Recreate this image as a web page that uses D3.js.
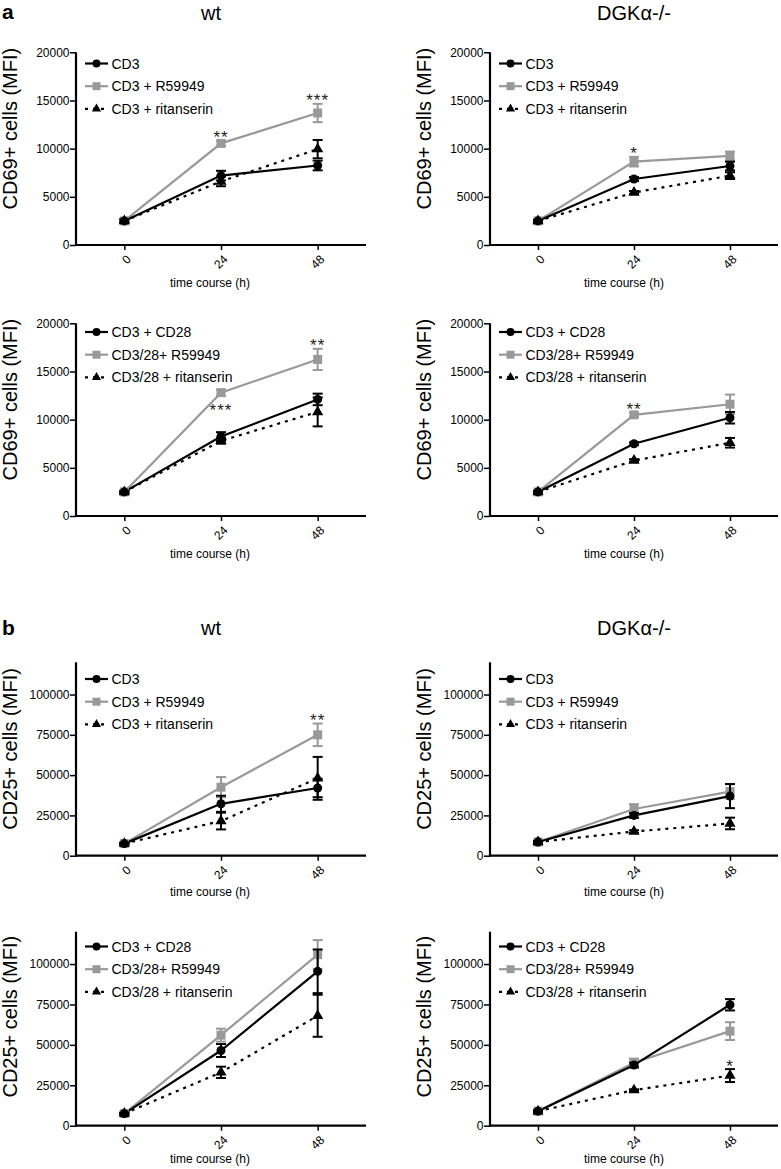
<!DOCTYPE html>
<html><head><meta charset="utf-8">
<script src="https://cdn.jsdelivr.net/npm/d3@7"></script>
<style>
body{margin:0;background:#fff;}
text{font-family:"Liberation Sans",Arial,Helvetica,sans-serif;}
</style></head>
<body>
<svg id="chart" width="781" height="1169"></svg>
<script>
// ---------------- DATA ----------------
const times = [0, 24, 48];
const timeLabels = ["0", "24", "48"];
const cd69Ticks = [0, 5000, 10000, 15000, 20000];
const cd25Ticks = [0, 25000, 50000, 75000, 100000];

const legendCD3 = ["CD3", "CD3 + R59949", "CD3 + ritanserin"];
const legendCD28 = ["CD3 + CD28", "CD3/28+ R59949", "CD3/28 + ritanserin"];

// CD69 wt, CD3
const a1_ctrl = [2500, 7200, 8250],  a1_ctrlErr = [150, 500, 500];
const a1_r    = [2500, 10550, 13700], a1_rErr = [150, 250, 950];
const a1_rit  = [2500, 6600, 9950],  a1_ritErr = [150, 500, 950];
// CD69 DGKa-/-, CD3
const a2_ctrl = [2500, 6850, 8200],  a2_ctrlErr = [100, 200, 450];
const a2_r    = [2500, 8650, 9250],  a2_rErr = [100, 500, 450];
const a2_rit  = [2500, 5450, 7200],  a2_ritErr = [100, 150, 350];
// CD69 wt, CD3/28
const a3_ctrl = [2500, 8250, 12100], a3_ctrlErr = [100, 450, 600];
const a3_r    = [2500, 12800, 16250], a3_rErr = [100, 300, 1100];
const a3_rit  = [2500, 7800, 10800], a3_ritErr = [100, 300, 1500];
// CD69 DGKa-/-, CD3/28
const a4_ctrl = [2500, 7500, 10200], a4_ctrlErr = [100, 150, 600];
const a4_r    = [2500, 10500, 11600], a4_rErr = [100, 200, 1000];
const a4_rit  = [2500, 5750, 7600],  a4_ritErr = [100, 150, 500];
// CD25 wt, CD3
const b1_ctrl = [7500, 32200, 42000], b1_ctrlErr = [500, 5000, 5700];
const b1_r    = [7500, 42500, 75000], b1_rErr = [500, 6300, 7000];
const b1_rit  = [7500, 21500, 48000], b1_ritErr = [500, 5200, 13300];
// CD25 DGKa-/-, CD3
const b2_ctrl = [8500, 25000, 37000], b2_ctrlErr = [500, 1500, 7500];
const b2_r    = [8500, 29000, 39800], b2_rErr = [500, 3000, 4500];
const b2_rit  = [8500, 15000, 20000], b2_ritErr = [500, 800, 3600];
// CD25 wt, CD3/28
const b3_ctrl = [7500, 46500, 95500], b3_ctrlErr = [500, 4000, 13500];
const b3_r    = [7500, 56000, 105800], b3_rErr = [500, 4000, 9000];
const b3_rit  = [7500, 33000, 68000], b3_ritErr = [500, 3500, 13000];
// CD25 DGKa-/-, CD3/28
const b4_ctrl = [9000, 37500, 74800], b4_ctrlErr = [500, 1500, 3500];
const b4_r    = [9000, 39000, 58500], b4_rErr = [500, 2500, 5500];
const b4_rit  = [9000, 22000, 31000], b4_ritErr = [500, 500, 4000];

// significance marks: [time index, series, text, side]
const a1_stars = [[1, "r", "**", "above"], [2, "r", "***", "above"]];
const a2_stars = [[1, "r", "*", "above"]];
const a3_stars = [[1, "r", "***", "below"], [2, "r", "**", "above"]];
const a4_stars = [[1, "r", "**", "above"]];
const b1_stars = [[2, "r", "**", "above"]];
const b2_stars = [];
const b3_stars = [];
const b4_stars = [[2, "rit", "*", "above"]];

// ---------------- LAYOUT ----------------
const GREY = "#999999";
const cols = [{ax: 76, end: 366, title: "wt", tx: 211}, {ax: 490, end: 778, title: "DGK\u03B1-/-", tx: 634}];
const rows = [
  {top: 52.3, bottom: 245, max: 20000, ticks: cd69Ticks, ylab: "CD69+ cells (MFI)", labOff: -20, legTop: 63.5, xlabOff: 42},
  {top: 323.3, bottom: 516, max: 20000, ticks: cd69Ticks, ylab: "CD69+ cells (MFI)", labOff: -20, legTop: 332, xlabOff: 42},
  {top: 662.3, bottom: 855.7, max: 120000, ticks: cd25Ticks, ylab: "CD25+ cells (MFI)", labOff: -10, legTop: 679, xlabOff: 40},
  {top: 931.7, bottom: 1125.7, max: 120000, ticks: cd25Ticks, ylab: "CD25+ cells (MFI)", labOff: -12, legTop: 946.5, xlabOff: 37}
];

const panels = [
  {r: 0, c: 0, leg: legendCD3, ctrl: a1_ctrl, ctrlErr: a1_ctrlErr, rv: a1_r, rErr: a1_rErr, rit: a1_rit, ritErr: a1_ritErr, stars: a1_stars},
  {r: 0, c: 1, leg: legendCD3, ctrl: a2_ctrl, ctrlErr: a2_ctrlErr, rv: a2_r, rErr: a2_rErr, rit: a2_rit, ritErr: a2_ritErr, stars: a2_stars},
  {r: 1, c: 0, leg: legendCD28, ctrl: a3_ctrl, ctrlErr: a3_ctrlErr, rv: a3_r, rErr: a3_rErr, rit: a3_rit, ritErr: a3_ritErr, stars: a3_stars},
  {r: 1, c: 1, leg: legendCD28, ctrl: a4_ctrl, ctrlErr: a4_ctrlErr, rv: a4_r, rErr: a4_rErr, rit: a4_rit, ritErr: a4_ritErr, stars: a4_stars},
  {r: 2, c: 0, leg: legendCD3, ctrl: b1_ctrl, ctrlErr: b1_ctrlErr, rv: b1_r, rErr: b1_rErr, rit: b1_rit, ritErr: b1_ritErr, stars: b1_stars},
  {r: 2, c: 1, leg: legendCD3, ctrl: b2_ctrl, ctrlErr: b2_ctrlErr, rv: b2_r, rErr: b2_rErr, rit: b2_rit, ritErr: b2_ritErr, stars: b2_stars},
  {r: 3, c: 0, leg: legendCD28, ctrl: b3_ctrl, ctrlErr: b3_ctrlErr, rv: b3_r, rErr: b3_rErr, rit: b3_rit, ritErr: b3_ritErr, stars: b3_stars},
  {r: 3, c: 1, leg: legendCD28, ctrl: b4_ctrl, ctrlErr: b4_ctrlErr, rv: b4_r, rErr: b4_rErr, rit: b4_rit, ritErr: b4_ritErr, stars: b4_stars}
];

const svg = d3.select("#chart");

// section letters and titles
svg.append("text").attr("x", 2).attr("y", 19).attr("font-size", 21).attr("font-weight", "bold").text("a");
svg.append("text").attr("x", 2).attr("y", 635).attr("font-size", 21).attr("font-weight", "bold").text("b");
[20, 635].forEach(ty => {
  cols.forEach(c => {
    svg.append("text").attr("x", c.tx).attr("y", ty).attr("text-anchor", "middle")
      .attr("font-size", 20).text(c.title);
  });
});

function marker(g, shape, x, y, color, size) {
  if (shape === "circle") {
    g.append("circle").attr("cx", x).attr("cy", y).attr("r", size / 2).attr("fill", color);
  } else {
    const sym = shape === "square" ? d3.symbolSquare : d3.symbolTriangle;
    const area = shape === "square" ? size * size : size * size * 0.45;
    g.append("path").attr("d", d3.symbol(sym, area)()).attr("transform", `translate(${x},${y})`).attr("fill", color);
  }
}

panels.forEach(p => {
  const row = rows[p.r], col = cols[p.c];
  const x = d3.scaleLinear().domain([-12, 60]).range([col.ax, col.end]);
  const y = d3.scaleLinear().domain([0, row.max]).range([row.bottom, row.top]);
  const g = svg.append("g");

  // y axis
  const yAx = g.append("g").attr("transform", `translate(${col.ax},0)`)
    .call(d3.axisLeft(y).tickValues(row.ticks).tickFormat(d3.format("d")).tickSize(6).tickSizeOuter(0));
  yAx.select(".domain").attr("stroke-width", 2.2).attr("d", `M0,${y(row.max)}V${row.bottom + 1}`);
  yAx.selectAll(".tick line").attr("stroke-width", 1.5);
  yAx.selectAll(".tick text").attr("font-size", 12).attr("x", -6.5).attr("font-family", "Liberation Sans, Arial, sans-serif");

  // x axis
  const xAx = g.append("g").attr("transform", `translate(0,${row.bottom})`)
    .call(d3.axisBottom(x).tickValues(times).tickFormat((d, i) => timeLabels[i]).tickSize(5).tickSizeOuter(0));
  xAx.select(".domain").attr("stroke-width", 2.2).attr("d", `M${col.ax - 1},0H${col.end}`);
  xAx.selectAll(".tick line").attr("stroke-width", 1.5);
  xAx.selectAll(".tick text").attr("font-size", 12).attr("font-family", "Liberation Sans, Arial, sans-serif")
    .attr("text-anchor", "end").attr("y", 0).attr("dy", "0.35em")
    .attr("transform", "translate(4,12) rotate(-45)");

  // axis titles
  g.append("text").attr("transform", `translate(${col.ax - 66},${(row.top + row.bottom) / 2 + row.labOff}) rotate(-90)`)
    .attr("text-anchor", "middle").attr("dy", "0.35em").attr("font-size", 20).text(row.ylab);
  g.append("text").attr("x", col.ax + 134).attr("y", row.bottom + row.xlabOff).attr("text-anchor", "middle")
    .attr("font-size", 12).text("time course (h)");

  const series = [
    {key: "r", vals: p.rv, err: p.rErr, color: GREY, dash: null, shape: "square", size: 9},
    {key: "ctrl", vals: p.ctrl, err: p.ctrlErr, color: "#000", dash: null, shape: "circle", size: 9},
    {key: "rit", vals: p.rit, err: p.ritErr, color: "#000", dash: "3,5", shape: "triangle", size: 11}
  ];
  const line = d3.line().x((d, i) => x(times[i])).y(d => y(d));

  series.forEach(s => {
    g.append("path").datum(s.vals).attr("d", line).attr("fill", "none").attr("stroke", s.color)
      .attr("stroke-width", 2.2).attr("stroke-dasharray", s.dash);
  });
  series.forEach(s => {
    s.vals.forEach((v, i) => {
      const cx = x(times[i]);
      const e = s.err[i];
      const eb = g.append("g").attr("stroke", s.color).attr("stroke-width", 2);
      eb.append("line").attr("x1", cx).attr("x2", cx).attr("y1", y(v - e)).attr("y2", y(v + e));
      [v - e, v + e].forEach(ev => eb.append("line").attr("x1", cx - 5).attr("x2", cx + 5).attr("y1", y(ev)).attr("y2", y(ev)));
      marker(g, s.shape, cx, y(v), s.color, s.size);
    });
  });

  // stars
  p.stars.forEach(([ti, key, txt, side]) => {
    const s = series.find(d => d.key === key);
    const v = s.vals[ti], e = s.err[ti];
    const cy = side === "above" ? y(v + e) - 6.5 : y(v - e) + 11;
    g.append("text").attr("x", x(times[ti])).attr("y", cy + 9).attr("text-anchor", "middle")
      .attr("font-size", 17).attr("letter-spacing", 1).attr("fill", "#222").text(txt);
  });

  // legend
  const lx = col.ax + 9;
  p.leg.forEach((name, i) => {
    const s = [series[1], series[0], series[2]][i];
    const ly = row.legTop + i * 22.7;
    g.append("line").attr("x1", lx).attr("x2", lx + 23).attr("y1", ly).attr("y2", ly)
      .attr("stroke", s.color).attr("stroke-width", 2.2).attr("stroke-dasharray", s.dash);
    marker(g, s.shape, lx + 11.5, ly, s.color, s.shape === "triangle" ? 9 : 8);
    g.append("text").attr("x", lx + 26.5).attr("y", ly).attr("dy", "0.36em").attr("font-size", 14).text(name);
  });
});
</script>
</body></html>
